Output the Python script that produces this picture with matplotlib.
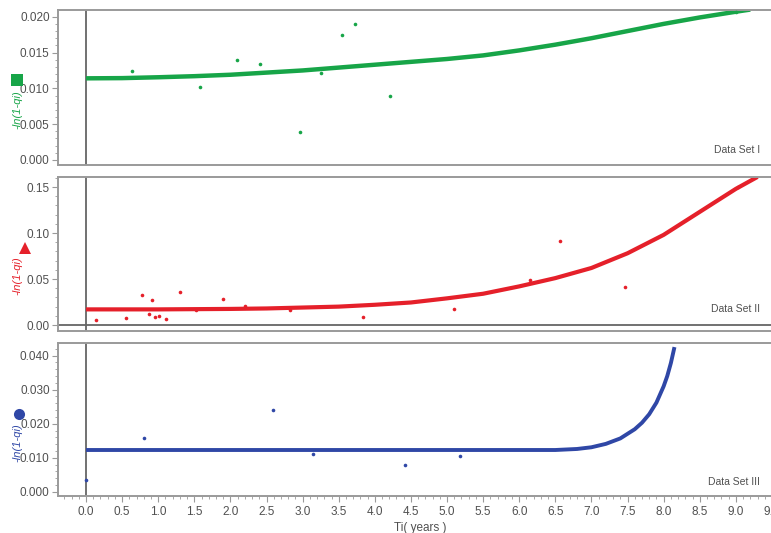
import matplotlib
matplotlib.use("Agg")
import matplotlib.pyplot as plt
from matplotlib.ticker import MultipleLocator, FormatStrFormatter

plt.rcParams["font.family"] = ["Liberation Sans", "DejaVu Sans"]

# Data Set I (green)
set1_x = [0.64, 1.58, 2.09, 2.41, 2.96, 3.26, 3.55, 3.73, 4.21, 9.0]
set1_y = [0.0124, 0.0102, 0.0140, 0.0134, 0.0039, 0.0121, 0.0175, 0.0190, 0.0090, 0.0207]
fit1_x = [0.0, 0.5, 1.0, 1.5, 2.0, 2.5, 3.0, 3.5, 4.0, 4.5, 5.0, 5.5, 6.0, 6.5, 7.0, 7.5, 8.0, 8.5, 9.0, 9.2]
fit1_y = [0.0114, 0.01143, 0.01155, 0.0117, 0.0119, 0.0122, 0.0125, 0.0129, 0.0133, 0.0137,
          0.0141, 0.0146, 0.0153, 0.0161, 0.0170, 0.0180, 0.0190, 0.0199, 0.0207, 0.0210]

# Data Set II (red)
set2_x = [0.14, 0.56, 0.77, 0.87, 0.92, 0.96, 1.01, 1.11, 1.30, 1.52, 1.90, 2.20, 2.82, 3.83,
          5.09, 6.15, 6.57, 7.47, 9.03]
set2_y = [0.0051, 0.0076, 0.0330, 0.0120, 0.0268, 0.0090, 0.0098, 0.0062, 0.0355, 0.0163, 0.0286,
          0.0207, 0.0160, 0.0090, 0.0170, 0.0489, 0.0913, 0.0417, 0.1503]
fit2_x = [0.0, 1.0, 2.0, 2.5, 3.0, 3.5, 4.0, 4.5, 5.0, 5.5, 6.0, 6.5, 7.0, 7.5, 8.0, 8.5, 9.0, 9.3]
fit2_y = [0.0170, 0.0170, 0.0175, 0.0180, 0.0190, 0.0200, 0.0220, 0.0245, 0.0290, 0.0340, 0.0420,
          0.0510, 0.0620, 0.0780, 0.0980, 0.1230, 0.1480, 0.1610]

# Data Set III (blue)
set3_x = [0.0, 0.81, 2.59, 3.14, 4.42, 5.18]
set3_y = [0.0034, 0.0157, 0.0240, 0.0110, 0.0079, 0.0106]
fit3_x = [0.0, 6.5, 6.8, 7.0, 7.2, 7.4, 7.6, 7.7, 7.8, 7.9, 8.0, 8.05, 8.1, 8.15]
fit3_y = [0.0123, 0.0123, 0.0126, 0.0131, 0.0141, 0.0157, 0.0184, 0.0203, 0.0228, 0.0262,
          0.0310, 0.0340, 0.0378, 0.0425]

green = "#17a548"
red = "#e5202a"
blue = "#2f47a6"
gray = "#9a9a9a"
text_gray = "#505050"

fig = plt.figure(figsize=(7.71, 5.33), dpi=100)

left = 58 / 771
width = (790 - 58) / 771
xmin, xmax = -0.388, 9.75

panels = [
    dict(bottom=1 - 165 / 533, height=155 / 533, ylim=(-0.0007, 0.02094), major=0.005, minor=0.001,
         fmt="%.3f", color=green, px=set1_x, py=set1_y, fx=fit1_x, fy=fit1_y, lw=3.2,
         name="Data Set I", ty=0.097, ly=0.355, marker="s", mpos=(0.022, 0.85), zero=False),
    dict(bottom=1 - 331 / 533, height=154 / 533, ylim=(-0.0065, 0.1609), major=0.05, minor=0.01,
         fmt="%.2f", color=red, px=set2_x, py=set2_y, fx=fit2_x, fy=fit2_y, lw=3.0,
         name="Data Set II", ty=0.143, ly=0.357, marker="^", mpos=(0.032, 0.5347), zero=True),
    dict(bottom=1 - 496 / 533, height=153 / 533, ylim=(-0.0012, 0.0437), major=0.01, minor=0.002,
         fmt="%.3f", color=blue, px=set3_x, py=set3_y, fx=fit3_x, fy=fit3_y, lw=2.8,
         name="Data Set III", ty=0.093, ly=0.346, marker="o", mpos=(0.024, 0.2227), zero=False),
]

axes = []
for i, p in enumerate(panels):
    ax = fig.add_axes([left, p["bottom"], width, p["height"]])
    ax.set_xlim(xmin, xmax)
    ax.set_ylim(*p["ylim"])

    ax.axvline(0, color="#666666", lw=1.3, zorder=1)
    if p["zero"]:
        ax.axhline(0, color="#666666", lw=1.3, zorder=1)

    ax.plot(p["fx"], p["fy"], color=p["color"], lw=p["lw"], solid_capstyle="butt", zorder=2)
    ax.plot(p["px"], p["py"], "o", color=p["color"], markersize=2.6, markeredgewidth=0, zorder=3)

    for side in ["top", "bottom", "left", "right"]:
        ax.spines[side].set_color(gray)
        ax.spines[side].set_linewidth(1.4)

    ax.yaxis.set_major_locator(MultipleLocator(p["major"]))
    ax.yaxis.set_minor_locator(MultipleLocator(p["minor"]))
    ax.yaxis.set_major_formatter(FormatStrFormatter(p["fmt"]))
    ax.tick_params(axis="y", which="major", direction="out", length=4, color=gray,
                   labelsize=8.5, labelcolor=text_gray, pad=2)
    ax.tick_params(axis="y", which="minor", direction="out", length=2, color=gray)

    if i < 2:
        ax.tick_params(axis="x", which="both", bottom=False, labelbottom=False)
    else:
        ax.xaxis.set_major_locator(MultipleLocator(0.5))
        ax.xaxis.set_minor_locator(MultipleLocator(0.1))
        ax.xaxis.set_major_formatter(FormatStrFormatter("%.1f"))
        ax.tick_params(axis="x", which="major", direction="out", length=4, color=gray,
                       labelsize=8.5, labelcolor=text_gray, pad=3)
        ax.tick_params(axis="x", which="minor", direction="out", length=2, color=gray)
        ax.set_xlabel("Ti( years )", fontsize=8.5, color=text_gray, labelpad=1)
        ax.xaxis.set_label_coords((420 - 58) / (790 - 58), -0.17)

    ax.set_ylabel("-ln(1-qi)", fontsize=8, color=p["color"], style="italic")
    ax.yaxis.set_label_coords(-0.049, p["ly"])

    ax.text((760 - 58) / (790 - 58), p["ty"], p["name"], transform=ax.transAxes,
            ha="right", va="center", fontsize=7.5, color=text_gray)

    ax.plot([p["mpos"][0]], [p["mpos"][1]], marker=p["marker"], color=p["color"], markersize=8,
            markeredgewidth=0, transform=fig.transFigure, clip_on=False)
    axes.append(ax)

fig.savefig("out.png", dpi=100)
